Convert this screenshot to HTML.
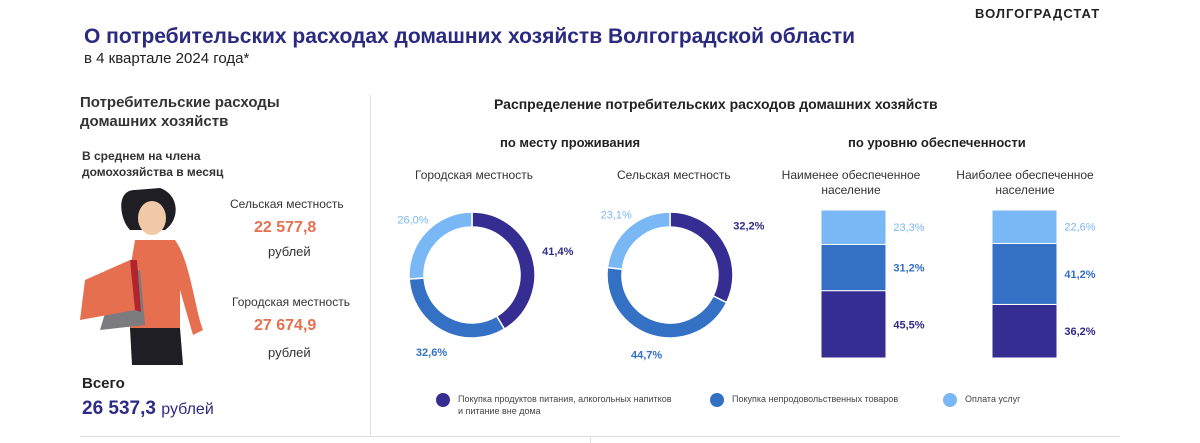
<!DOCTYPE html>
<html><head><meta charset="utf-8">
<style>
body{margin:0;width:1200px;height:443px;background:#fff;overflow:hidden;font-family:"Liberation Sans",sans-serif;position:relative}
.a{position:absolute;white-space:nowrap}
</style></head><body>
<div class="a" style="left:975px;top:6px;font-size:13px;font-weight:bold;letter-spacing:1px;color:#222">ВОЛГОГРАДСТАТ</div>
<div class="a" style="left:84px;top:25px;font-size:21px;font-weight:bold;color:#2b2a80">О потребительских расходах домашних хозяйств Волгоградской области</div>
<div class="a" style="left:84px;top:50px;font-size:15px;color:#222">в 4 квартале 2024 года*</div>
<div class="a" style="left:80px;top:93px;font-size:15px;font-weight:bold;color:#333;line-height:19px">Потребительские расходы<br>домашних хозяйств</div>
<div class="a" style="left:82px;top:148px;font-size:12px;font-weight:bold;color:#333;line-height:16px">В среднем на члена<br>домохозяйства в месяц</div>
<svg class="a" style="left:75px;top:180px" width="140" height="200">
<path d="M60 10 C40 10 45 40 55 50 L90 50 C105 40 105 15 85 8 Z" fill="#1e1e24"/>
<ellipse cx="77" cy="38" rx="14" ry="17" fill="#f2c9a6"/>
<path d="M60 60 L100 60 C115 80 120 130 128 150 L118 155 L105 110 L105 150 L55 150 L55 90 Z" fill="#e56f4f"/>
<path d="M55 148 L105 148 L108 185 L57 185 Z" fill="#1e1e24"/>
<path d="M40 100 L65 90 L70 145 L25 150 Z" fill="#7b7b80"/>
<path d="M10 100 L55 80 L60 130 L5 140 Z" fill="#e56f4f"/>
<path d="M55 80 L62 80 L66 132 L60 130 Z" fill="#b3252d"/>
</svg>
<div class="a" style="left:230px;top:197px;font-size:12px;color:#333">Сельская местность</div>
<div class="a" style="left:254px;top:219px;font-size:16px;font-weight:bold;color:#e56f4f">22 577,8</div>
<div class="a" style="left:268px;top:244px;font-size:13px;color:#333">рублей</div>
<div class="a" style="left:232px;top:295px;font-size:12px;color:#333">Городская местность</div>
<div class="a" style="left:254px;top:317px;font-size:16px;font-weight:bold;color:#e56f4f">27 674,9</div>
<div class="a" style="left:268px;top:345px;font-size:13px;color:#333">рублей</div>
<div class="a" style="left:82px;top:375px;font-size:15px;font-weight:bold;color:#222">Всего</div>
<div class="a" style="left:82px;top:398px;font-size:19px;font-weight:bold;color:#2e2a86">26 537,3 <span style="font-weight:normal;font-size:16px">рублей</span></div>
<div class="a" style="left:370px;top:95px;width:1px;height:340px;background:#ddd"></div>
<div class="a" style="left:80px;top:436px;width:1040px;height:1px;background:#ddd"></div>
<div class="a" style="left:590px;top:437px;width:1px;height:6px;background:#ddd"></div>
<div class="a" style="left:494px;top:96px;font-size:14px;font-weight:bold;color:#222">Распределение потребительских расходов домашних хозяйств</div>
<div class="a" style="left:500px;top:135px;font-size:13px;font-weight:bold;color:#222">по месту проживания</div>
<div class="a" style="left:848px;top:135px;font-size:13px;font-weight:bold;color:#222">по уровню обеспеченности</div>
<div class="a" style="left:415px;top:168px;font-size:12px;color:#333">Городская местность</div>
<div class="a" style="left:617px;top:168px;font-size:12px;color:#333">Сельская местность</div>
<div class="a" style="left:776px;top:168px;width:150px;text-align:center;font-size:12px;color:#333;line-height:15px">Наименее обеспеченное<br>население</div>
<div class="a" style="left:950px;top:168px;width:150px;text-align:center;font-size:12px;color:#333;line-height:15px">Наиболее обеспеченное<br>население</div>
<svg class="a" id="ch" style="left:0;top:0" width="1200" height="443"></svg>
<div class="a" style="left:436px;top:393px;font-size:9px;color:#444;line-height:12px"><span style="position:absolute;left:0;top:0;width:14px;height:14px;border-radius:50%;background:#352d91"></span><span style="margin-left:22px;display:inline-block">Покупка продуктов питания, алкогольных напитков<br>и питание вне дома</span></div>
<div class="a" style="left:710px;top:393px;font-size:9px;color:#444;line-height:12px"><span style="position:absolute;left:0;top:0;width:14px;height:14px;border-radius:50%;background:#3470c4"></span><span style="margin-left:22px;display:inline-block">Покупка непродовольственных товаров</span></div>
<div class="a" style="left:943px;top:393px;font-size:9px;color:#444;line-height:12px"><span style="position:absolute;left:0;top:0;width:14px;height:14px;border-radius:50%;background:#7ab8f5"></span><span style="margin-left:22px;display:inline-block">Оплата услуг</span></div>
<script>
const categories=["food","goods","services"];
const urbanValues=[41.4,32.6,26.0];
const ruralValues=[32.2,44.7,23.1];
const poorValues=[45.5,31.2,23.3];
const richValues=[36.2,41.2,22.6];
const colors=["#352d91","#3470c4","#7ab8f5"];
const svg=document.getElementById('ch');
const NS="http://www.w3.org/2000/svg";
function mk(t,a){const e=document.createElementNS(NS,t);for(const k in a)e.setAttribute(k,a[k]);svg.appendChild(e);return e;}
function fmt(v){return v.toFixed(1).replace('.',',')+'%';}
function donut(cx,cy,vals,name,lblPos){
  const R=63,r=48;let a0=0;const tot=vals.reduce((s,v)=>s+v,0);
  vals.forEach((v,i)=>{
    const a1=a0+v/tot*2*Math.PI;
    const p=(a,rad)=>[cx+rad*Math.sin(a),cy-rad*Math.cos(a)];
    const [x1,y1]=p(a0,R),[x2,y2]=p(a1,R),[x3,y3]=p(a1,r),[x4,y4]=p(a0,r);
    const lg=(a1-a0)>Math.PI?1:0;
    const e=mk('path',{d:`M${x1} ${y1}A${R} ${R} 0 ${lg} 1 ${x2} ${y2}L${x3} ${y3}A${r} ${r} 0 ${lg} 0 ${x4} ${y4}Z`,fill:colors[i],stroke:'#fff','stroke-width':1.5});
    
    
    const am=(a0+a1)/2;const [lx,ly]=p(am,R+lblPos[i]);
    const t=mk('text',{x:lx,y:ly+4,'text-anchor':'middle','font-size':11,'font-weight':i==2?'normal':'bold',fill:i==2?'#7ab8f5':(i==0?'#2e2a86':'#3470c4'),'font-family':'Liberation Sans, sans-serif'});
    t.textContent=fmt(v);
    
    
    a0=a1;
  });
}
donut(472,275,urbanValues,'urban-donut',[26,24,18]);
donut(670,275,ruralValues,'rural-donut',[30,20,18]);
function bar(x,vals,name){
  const top=210,h=148,w=65;let y=top+h;const tot=vals.reduce((s,v)=>s+v,0);
  vals.forEach((v,i)=>{
    const bh=v/tot*h;y-=bh;
    const e=mk('rect',{x:x,y:y,width:w,height:bh,fill:colors[i],stroke:'#fff','stroke-width':1});
    
    
    const t=mk('text',{x:x+w+23,y:y+bh/2+4,'text-anchor':'middle','font-size':11,'font-weight':i==2?'normal':'bold',fill:i==2?'#7ab8f5':(i==0?'#2e2a86':'#3470c4'),'font-family':'Liberation Sans, sans-serif'});
    t.textContent=fmt(v);
    
    
  });
}
bar(821,poorValues,'poor-bar');
bar(992,richValues,'rich-bar');
</script>
</body></html>
